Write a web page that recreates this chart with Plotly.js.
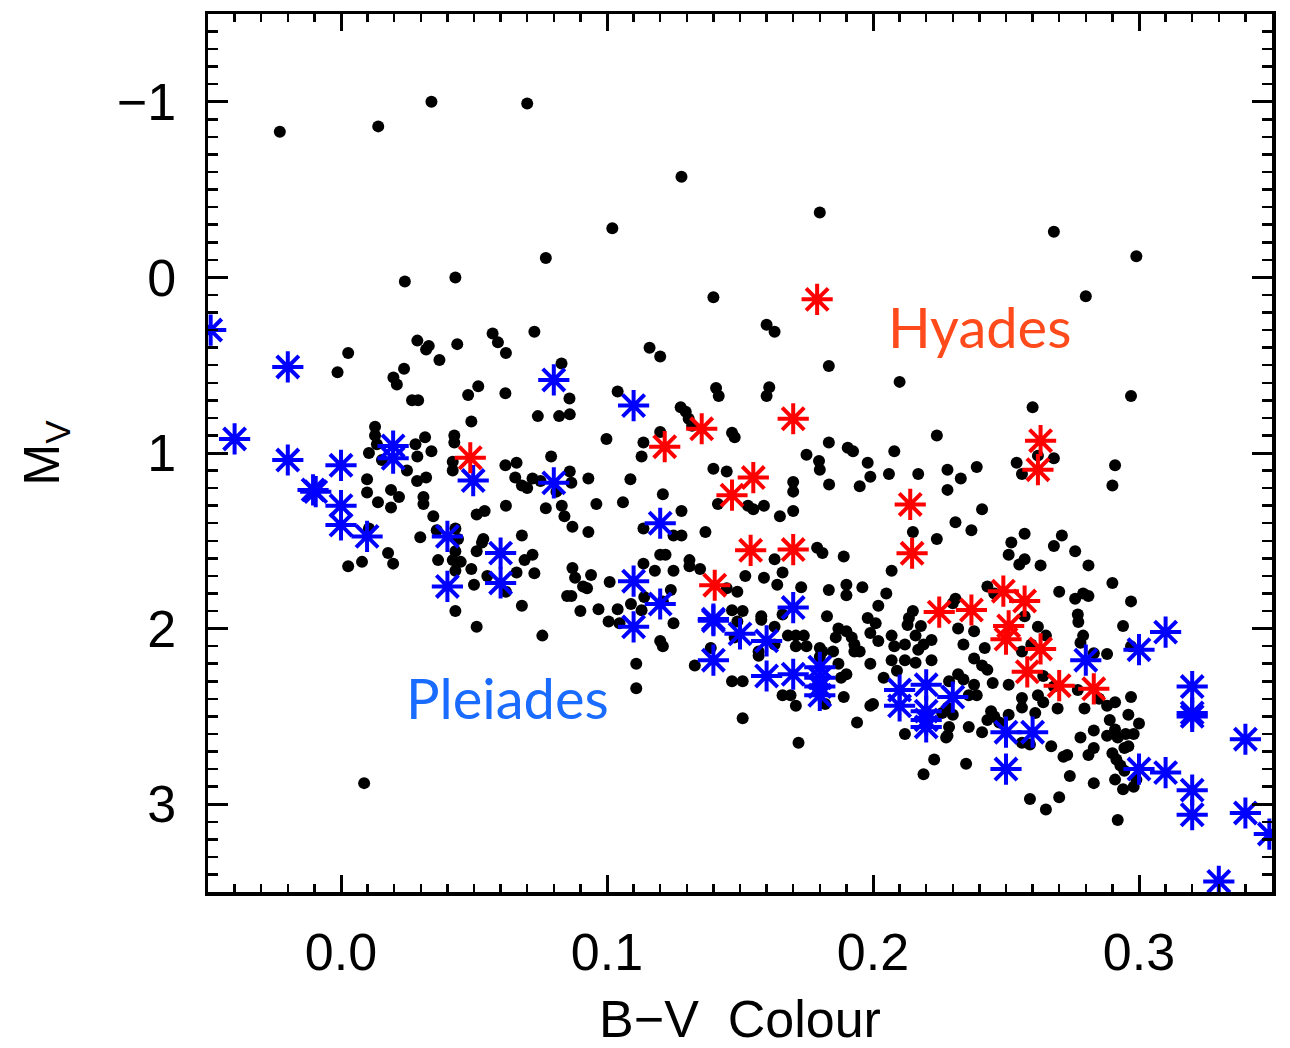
<!DOCTYPE html>
<html>
<head>
<meta charset="utf-8">
<script src="https://cdn.plot.ly/plotly-3.0.1.min.js"></script>
<style>
  html, body { margin: 0; padding: 0; background: #ffffff; }
  #chart { width: 1290px; height: 1048px; }
</style>
</head>
<body>
<div id="chart"></div>
<script>
// Field A-type stars: [B-V colour, absolute magnitude M_V]
const fieldStars = [
  [-0.023,-0.83],[0.014,-0.86],[0.034,-1.0],[0.070,-0.99],[0.102,-0.28],[0.077,-0.11],[0.043,0.0],[0.024,0.023],
  [0.128,-0.573],[0.180,-0.37],[0.268,-0.26],[0.299,-0.12],[0.140,0.113],[0.280,0.108],
  [0.0027,0.43],[-0.0013,0.54],[0.0287,0.36],[0.033,0.39],[0.032,0.41],[0.037,0.47],[0.0437,0.38],[0.057,0.32],
  [0.059,0.37],[0.062,0.43],[0.0197,0.57],[0.021,0.61],[0.0237,0.52],[0.0267,0.70],[0.029,0.70],[0.0516,0.62],
  [0.0478,0.67],[0.0618,0.66],[0.049,0.82],[0.0128,0.85],[0.0128,0.90],[0.0135,0.95],[0.0105,1.0],[0.0154,1.04],
  [0.0248,1.10],[0.028,0.95],[0.0316,0.91],[0.0287,1.02],[0.034,0.99],[0.0426,0.90],[0.0426,0.94],[0.042,1.05],
  [0.042,1.10],[0.0618,1.07],[0.066,1.055],[0.0655,1.14],[0.068,1.185],[0.070,1.20],[0.0098,1.15],[0.0098,1.225],
  [0.0139,1.28],[0.0188,1.21],[0.0218,1.25],[0.0188,1.31],[0.0286,1.16],[0.032,1.14],[0.031,1.25],[0.031,1.29],
  [0.0347,1.36],[0.051,1.35],[0.054,1.33],[0.062,1.30],[0.0105,1.43],[0.0298,1.48],[0.036,1.44],[0.043,1.43],
  [0.044,1.49],[0.043,1.56],[0.0365,1.61],[0.042,1.61],[0.045,1.62],[0.043,1.67],[0.049,1.66],[0.051,1.56],
  [0.0535,1.49],[0.053,1.51],[0.050,1.75],[0.055,1.70],[0.066,1.68],[0.068,1.47],[0.069,1.61],[0.0177,1.57],
  [0.0196,1.63],[0.0079,1.62],[0.0027,1.645],[0.062,1.79],[0.043,1.90],[0.068,1.87],
  [0.160,0.27],[0.163,0.31],[0.0727,0.31],[0.116,0.40],[0.120,0.45],[0.1834,0.505],[0.0829,0.49],[0.0859,0.69],
  [0.074,0.79],[0.082,0.79],[0.086,0.78],[0.104,0.65],[0.141,0.63],[0.142,0.675],[0.161,0.625],[0.160,0.675],
  [0.1277,0.74],[0.1296,0.765],[0.1307,0.805],[0.132,0.845],[0.120,0.88],[0.1137,0.94],[0.113,1.02],[0.0998,0.92],
  [0.147,0.885],[0.148,0.91],[0.1834,0.94],[0.175,1.01],[0.1797,1.045],[0.18,1.095],[0.140,1.09],[0.145,1.105],
  [0.170,1.165],[0.170,1.22],[0.170,1.33],[0.165,1.36],[0.153,1.30],[0.155,1.32],[0.159,1.30],[0.1417,1.29],
  [0.1835,1.18],[0.079,1.02],[0.086,1.105],[0.0866,1.17],[0.093,1.145],[0.1088,1.15],[0.121,1.235],[0.072,1.145],
  [0.081,1.22],[0.096,1.29],[0.106,1.28],[0.077,1.315],[0.083,1.30],[0.084,1.36],[0.087,1.42],[0.093,1.45],
  [0.128,1.33],[0.1137,1.43],[0.125,1.47],[0.128,1.47],[0.137,1.45],[0.072,1.58],[0.0727,1.685],[0.087,1.655],
  [0.088,1.71],[0.094,1.695],[0.091,1.76],[0.0925,1.77],[0.085,1.815],[0.0866,1.815],[0.090,1.90],[0.101,1.735],
  [0.0968,1.89],[0.104,1.89],[0.109,1.86],[0.1137,1.63],[0.118,1.67],[0.125,1.67],[0.120,1.58],[0.122,1.58],
  [0.131,1.61],[0.131,1.645],[0.135,1.66],[0.124,1.78],[0.114,1.82],[0.121,1.845],[0.113,1.895],[0.145,1.77],
  [0.149,1.79],[0.147,1.895],[0.151,1.90],[0.152,1.70],[0.159,1.71],[0.166,1.68],[0.164,1.75],[0.163,1.605],
  [0.173,1.765],[0.179,1.54],[0.181,1.57],[0.1834,1.78],[0.1827,1.93],[0.158,1.93],[0.075,1.16],
  [0.210,0.595],[0.297,0.675],[0.260,0.74],[0.224,0.90],[0.1905,0.97],[0.1925,0.99],[0.208,0.99],[0.198,1.055],
  [0.199,1.135],[0.195,1.19],[0.206,1.12],[0.217,1.12],[0.228,1.095],[0.233,1.145],[0.239,1.08],[0.228,1.21],
  [0.254,1.055],[0.256,1.12],[0.262,1.015],[0.268,1.03],[0.291,1.07],[0.29,1.185],[0.241,1.32],[0.231,1.395],
  [0.237,1.44],[0.215,1.45],[0.224,1.49],[0.189,1.59],[0.207,1.67],[0.19,1.75],[0.19,1.81],[0.196,1.765],
  [0.205,1.80],[0.202,1.87],[0.198,1.94],[0.215,1.90],[0.231,1.83],[0.230,1.855],[0.243,1.76],[0.2456,1.80],
  [0.257,1.46],[0.252,1.51],[0.251,1.58],[0.255,1.635],[0.257,1.605],[0.263,1.64],[0.271,1.47],[0.268,1.53],
  [0.276,1.56],[0.281,1.64],[0.290,1.74],[0.270,1.79],[0.276,1.83],[0.279,1.80],[0.281,1.815],[0.297,1.845],
  [0.277,1.92],[0.257,1.93],
  [0.125,1.97],[0.120,2.07],[0.121,2.10],[0.111,2.20],[0.111,2.34],[0.133,2.21],[0.139,2.11],[0.149,1.96],
  [0.148,2.05],[0.147,2.30],[0.151,2.30],[0.151,2.51],[0.158,1.95],[0.163,1.99],[0.157,2.155],[0.157,2.13],
  [0.163,2.09],[0.166,1.92],[0.166,2.38],[0.169,2.38],[0.171,2.44],[0.172,2.65],[0.168,2.04],[0.171,2.04],
  [0.174,2.04],[0.171,2.10],[0.175,2.10],[0.180,2.11],[0.181,2.13],[0.185,2.13],[0.180,2.16],[0.182,2.43],
  [0.187,2.00],[0.186,2.05],[0.190,2.015],[0.192,2.05],[0.193,2.09],[0.193,2.13],[0.195,2.13],[0.187,2.20],
  [0.190,2.26],[0.188,2.28],[0.189,2.39],[0.201,1.97],[0.199,2.025],[0.202,2.07],[0.199,2.20],[0.194,2.535],
  [0.199,2.44],[0.200,2.43],[0.207,2.04],[0.208,2.10],[0.212,2.09],[0.207,2.18],[0.212,2.18],[0.216,2.195],
  [0.222,2.18],[0.216,2.04],[0.219,2.09],[0.222,2.065],[0.217,2.12],[0.213,1.98],[0.2135,1.94],[0.218,1.985],
  [0.204,2.28],[0.209,2.24],[0.212,2.60],[0.223,2.745],[0.219,2.83],[0.2275,2.62],[0.228,2.45],[0.2286,2.30],
  [0.232,2.26],[0.234,2.29],[0.236,2.38],[0.238,2.32],[0.239,2.38],[0.245,2.31],[0.238,2.17],[0.241,2.21],
  [0.243,2.235],[0.242,2.11],[0.234,2.09],[0.232,2.00],[0.238,2.015],[0.2444,2.47],[0.2456,2.50],[0.241,2.59],
  [0.236,2.56],[0.2475,2.535],[0.226,2.48],[0.230,2.49],[0.2286,2.56],[0.228,2.61],[0.235,2.77],
  [0.2772,1.963],[0.294,1.985],[0.262,1.99],[0.265,2.04],[0.279,2.04],[0.278,2.08],[0.283,2.14],[0.288,2.145],
  [0.297,2.10],[0.251,2.32],[0.256,2.13],[0.2595,2.09],[0.264,2.27],[0.268,2.33],[0.277,2.35],[0.285,2.40],
  [0.256,2.395],[0.256,2.45],[0.262,2.38],[0.264,2.42],[0.261,2.48],[0.2694,2.455],[0.2795,2.455],[0.288,2.44],
  [0.291,2.42],[0.297,2.39],[0.243,2.52],[0.251,2.49],[0.296,2.49],[0.300,2.54],[0.289,2.52],[0.291,2.575],
  [0.283,2.58],[0.288,2.61],[0.292,2.62],[0.295,2.60],[0.298,2.60],[0.278,2.62],[0.283,2.68],[0.281,2.72],
  [0.2945,2.68],[0.296,2.67],[0.290,2.71],[0.2915,2.745],[0.293,2.78],[0.2945,2.81],[0.291,2.86],[0.294,2.915],
  [0.298,2.90],[0.299,2.86],[0.292,3.09],[0.267,2.67],[0.2716,2.73],[0.273,2.72],[0.274,2.84],[0.283,2.88],
  [0.259,2.97],[0.265,3.03],[0.270,2.96],[0.256,2.65],[0.259,2.66],
  [0.0087,2.88],[0.051,1.99],[0.0757,2.04],[0.1006,1.96],[0.1047,1.97]
];

// Pleiades members
const pleiadesStars = [
  [-0.049,0.30],[-0.040,0.92],[-0.020,0.51],[-0.020,1.04],[-0.0105,1.21],[-0.0095,1.22],[0.0,1.07],[0.0,1.30],
  [0.0,1.41],[0.0098,1.475],[0.0196,0.96],[0.0196,1.03],[0.0497,1.157],[0.040,1.475],[0.040,1.76],[0.060,1.57],
  [0.060,1.74],[0.080,0.584],[0.110,0.73],[0.080,1.17],[0.120,1.40],[0.110,1.73],[0.120,1.86],[0.110,1.99],
  [0.140,1.946],[0.140,1.955],[0.140,2.18],[0.150,2.03],[0.160,2.07],[0.170,1.88],[0.160,2.27],[0.170,2.26],
  [0.180,2.22],[0.180,2.28],[0.180,2.33],[0.180,2.38],[0.210,2.35],[0.210,2.44],[0.220,2.32],[0.220,2.47],
  [0.220,2.52],[0.220,2.56],[0.230,2.39],[0.250,2.59],[0.260,2.59],[0.250,2.80],[0.280,2.18],[0.300,2.12],
  [0.310,2.02],[0.320,2.33],[0.320,2.48],[0.320,2.50],[0.340,2.63],[0.300,2.80],[0.310,2.82],[0.320,2.92],
  [0.320,3.06],[0.340,3.05],[0.349,3.17],[0.330,3.44]
];

// Hyades members
const hyadesStars = [
  [0.179,0.125],[0.170,0.805],[0.1356,0.862],[0.1217,0.964],[0.0486,1.027],[0.147,1.24],[0.155,1.14],[0.154,1.554],
  [0.170,1.55],[0.1405,1.753],[0.214,1.293],[0.2147,1.571],[0.263,0.93],[0.262,1.095],[0.2249,1.906],[0.237,1.894],
  [0.249,1.787],[0.257,1.843],[0.251,1.985],[0.250,2.06],[0.263,2.116],[0.258,2.246],[0.270,2.325],[0.283,2.343]
];

const xTickVals = [0.0, 0.1, 0.2, 0.3];
const xTickText = ['0.0', '0.1', '0.2', '0.3'];
const yTickVals = [-1, 0, 1, 2, 3];
const yTickText = ['\u22121', '0', '1', '2', '3'];

const col = (arr, i) => arr.map(p => p[i]);
const axisFont = 'Liberation Sans, Arial, sans-serif';
const labelFont = 'Lato, Open Sans, sans-serif';

function starMarker(c) {
  return { symbol: 'asterisk-open', size: 26, color: c, line: { color: c, width: 4 } };
}

const traces = [
  {
    x: col(fieldStars, 0), y: col(fieldStars, 1),
    type: 'scatter', mode: 'markers', name: 'Field',
    marker: { symbol: 'circle', size: 12, color: '#000000', line: { width: 0 } }
  },
  {
    x: col(pleiadesStars, 0), y: col(pleiadesStars, 1),
    type: 'scatter', mode: 'markers', name: 'Pleiades',
    marker: starMarker('#0000ff')
  },
  {
    x: col(hyadesStars, 0), y: col(hyadesStars, 1),
    type: 'scatter', mode: 'markers', name: 'Hyades',
    marker: starMarker('#ff0000')
  }
];

const layout = {
  width: 1290, height: 1048,
  margin: { l: 208, r: 18, t: 14, b: 156 },
  paper_bgcolor: '#ffffff', plot_bgcolor: '#ffffff',
  showlegend: false,
  xaxis: {
    range: [-0.05, 0.35],
    tickvals: xTickVals, ticktext: xTickText,
    ticks: 'inside', ticklen: 17, tickwidth: 3, tickcolor: '#000',
    minor: { dtick: 0.01, tick0: 0, ticks: 'inside', ticklen: 8, tickwidth: 2.5, tickcolor: '#000', showgrid: false },
    showline: true, linewidth: 3.5, linecolor: '#000', mirror: 'allticks',
    showgrid: false, zeroline: false,
    tickfont: { family: axisFont, size: 52, color: '#000' },
    ticklabelstandoff: 12,
    title: { text: 'B\u2212V  Colour', font: { family: axisFont, size: 52, color: '#000' }, standoff: 30 }
  },
  yaxis: {
    range: [3.5, -1.5],
    tickvals: yTickVals, ticktext: yTickText,
    ticks: 'inside', ticklen: 20, tickwidth: 3, tickcolor: '#000',
    minor: { dtick: 0.1, tick0: 0, ticks: 'inside', ticklen: 10, tickwidth: 2.5, tickcolor: '#000', showgrid: false },
    showline: true, linewidth: 3.5, linecolor: '#000', mirror: 'allticks',
    showgrid: false, zeroline: false,
    tickfont: { family: axisFont, size: 52, color: '#000' },
    ticklabelstandoff: 18,
    title: { text: 'M<sub>V</sub>', font: { family: axisFont, size: 50, color: '#000' }, standoff: 42 }
  },
  annotations: [
    { x: 0.240, y: 0.28, xref: 'x', yref: 'y', text: 'Hyades', showarrow: false,
      xanchor: 'center', yanchor: 'middle', font: { family: labelFont, size: 56, color: '#ff4a1c' } },
    { x: 0.0625, y: 2.39, xref: 'x', yref: 'y', text: 'Pleiades', showarrow: false,
      xanchor: 'center', yanchor: 'middle', font: { family: labelFont, size: 56, color: '#1a6bff' } }
  ]
};

Plotly.newPlot('chart', traces, layout, { displayModeBar: false, staticPlot: true });
</script>
</body>
</html>
